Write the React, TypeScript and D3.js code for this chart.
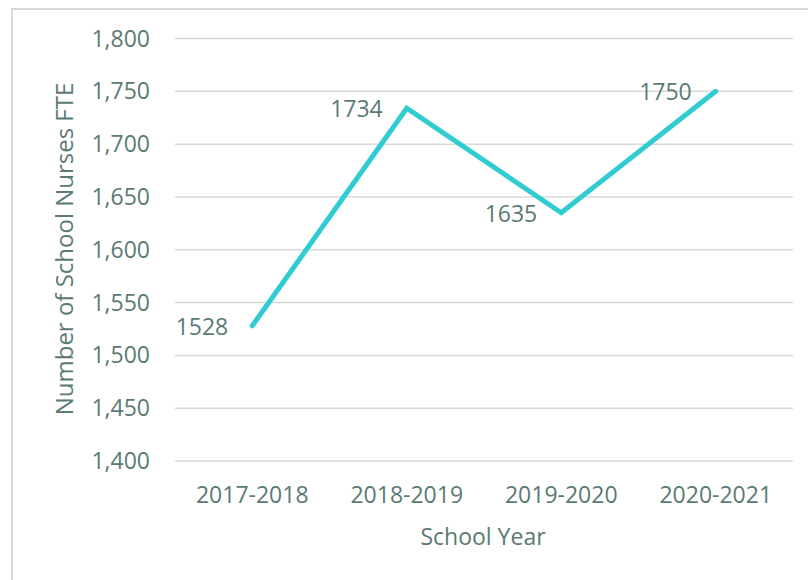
import React from "react";
import * as d3 from "d3";

const categories = ["2017-2018", "2018-2019", "2019-2020", "2020-2021"];
const values = [1528, 1734, 1635, 1750];
const yTicks = [1400, 1450, 1500, 1550, 1600, 1650, 1700, 1750, 1800];

const W = 808;
const H = 580;
const FONT = "'Open Sans', 'Noto Sans', sans-serif";
const TEXT = "#5b7a74";

export default function App() {
  const left = 175;
  const right = 793;
  const top = 38.5;
  const bottom = 461;
  const x = d3.scaleBand<string>().domain(categories).range([left, right]);
  const y = d3.scaleLinear().domain([1400, 1800]).range([bottom, top]);
  const fmt = d3.format(",");
  const cx = (c: string) => (x(c) as number) + x.bandwidth() / 2;
  const line = d3
    .line<number>()
    .x((_, i) => cx(categories[i]))
    .y((d) => y(d));

  return (
    <svg
      width={W}
      height={H}
      style={{ position: "absolute", left: 0, top: 0, background: "#fff" }}
    >
      <rect x={12} y={9} width={W} height={H} fill="#fff" stroke="#d9d9d9" strokeWidth={2} />
      {yTicks.map((t) => (
        <g key={t}>
          <line x1={left} x2={right} y1={y(t)} y2={y(t)} stroke="#d9d9d9" strokeWidth={1.5} />
          <text
            x={150}
            y={y(t) + 8}
            textAnchor="end"
            fontFamily={FONT}
            fontSize={23}
            fill={TEXT}
          >
            {fmt(t)}
          </text>
        </g>
      ))}
      {categories.map((c) => (
        <text
          key={c}
          x={cx(c)}
          y={503}
          textAnchor="middle"
          fontFamily={FONT}
          fontSize={23}
          fill={TEXT}
        >
          {c}
        </text>
      ))}
      <text x={483} y={545} textAnchor="middle" fontFamily={FONT} fontSize={23} fill={TEXT}>
        School Year
      </text>
      <text
        transform={`translate(73,249) rotate(-90)`}
        textAnchor="middle"
        fontFamily={FONT}
        fontSize={24}
        fill={TEXT}
      >
        Number of School Nurses FTE
      </text>
      <path
        d={line(values) || ""}
        fill="none"
        stroke="#30ccd2"
        strokeWidth={5}
        strokeLinecap="round"
        strokeLinejoin="miter"
      />
      {values.map((v, i) => (
        <text
          key={i}
          x={cx(categories[i]) - 24}
          y={y(v) + 9}
          textAnchor="end"
          fontFamily={FONT}
          fontSize={23}
          fill={TEXT}
        >
          {v}
        </text>
      ))}
    </svg>
  );
}
